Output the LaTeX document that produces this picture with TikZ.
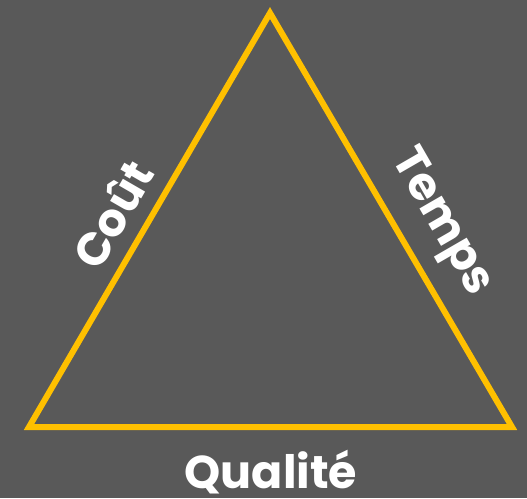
\documentclass[tikz,border=0pt]{standalone}
\usepackage{fontspec}
\setmainfont{Poppins}
\definecolor{bggray}{HTML}{595959}
\definecolor{trigold}{HTML}{FFC000}
\tikzset{
  edge/.style={draw=trigold,line width=6pt,line join=miter},
  side label/.style={text=white,font=\fontsize{46}{56}\selectfont\bfseries,inner sep=0pt}
}
\begin{document}
\begin{tikzpicture}[x=1pt,y=-1pt]
\fill[bggray] (0,0) rectangle (527,498);
\useasboundingbox (0,0) rectangle (527,498);
\coordinate (apex) at (270,13);
\coordinate (left) at (29,427);
\coordinate (right) at (512,427);
\draw[edge] (apex) -- (left) -- (right) -- cycle;

\node[side label,rotate=60] (cout) at (112,214) {Coût};
\node[side label,rotate=-60] (temps) at (440,223) {Temps};
\node[side label] (qualite) at (271,472) {Qualité};
\end{tikzpicture}
\end{document}
